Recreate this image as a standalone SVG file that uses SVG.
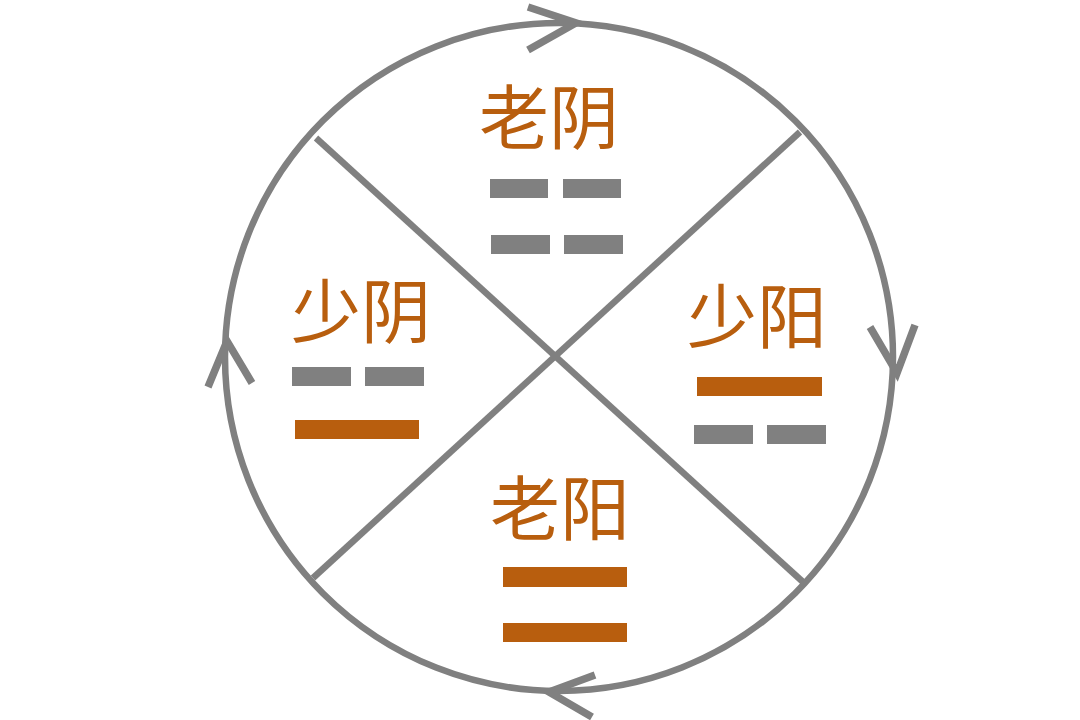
<svg xmlns="http://www.w3.org/2000/svg" width="1080" height="720" viewBox="0 0 1080 720">
<style>
.ln{fill:none;stroke:#808080;stroke-width:6.5;}
.chev{fill:none;stroke:#808080;stroke-width:7.5;stroke-linejoin:miter;}
.lbl{font-family:"Noto Sans CJK SC","Noto Sans CJK JP",sans-serif;font-size:70px;fill:#B85E0E;text-anchor:middle;}
.yin{fill:#808080;}
.yang{fill:#B85E0E;}
</style>
<rect width="1080" height="720" fill="#ffffff"/>
<g id="connectors">
<circle class="ln" cx="559" cy="357" r="334"/>
<line class="ln" x1="316" y1="138" x2="803" y2="582"/>
<line class="ln" x1="800" y1="132" x2="313" y2="578"/>
<polyline class="chev" points="528,7 576,23 528,50"/>
<polyline class="chev" points="870,327 897,373 915,325"/>
<polyline class="chev" points="208,387 227,341 252,383"/>
<polyline class="chev" points="595,675 549,692 592,717"/>
</g>
<g id="laoyin">
<text class="lbl" x="549" y="144">老阴</text>
<rect class="yin" x="490" y="179" width="58" height="19"/>
<rect class="yin" x="563" y="179" width="58" height="19"/>
<rect class="yin" x="491" y="235" width="59" height="19"/>
<rect class="yin" x="564" y="235" width="59" height="19"/>
</g>
<g id="shaoyin">
<text class="lbl" x="361" y="338">少阴</text>
<rect class="yin" x="292" y="367" width="59" height="19"/>
<rect class="yin" x="365" y="367" width="59" height="19"/>
<rect class="yang" x="295" y="420" width="124" height="19"/>
</g>
<g id="shaoyang">
<text class="lbl" x="757" y="343">少阳</text>
<rect class="yang" x="697" y="377" width="125" height="19"/>
<rect class="yin" x="694" y="425" width="59" height="19"/>
<rect class="yin" x="767" y="425" width="59" height="19"/>
</g>
<g id="laoyang">
<text class="lbl" x="560" y="535">老阳</text>
<rect class="yang" x="503" y="567" width="124" height="20"/>
<rect class="yang" x="503" y="623" width="124" height="19"/>
</g>
</svg>
